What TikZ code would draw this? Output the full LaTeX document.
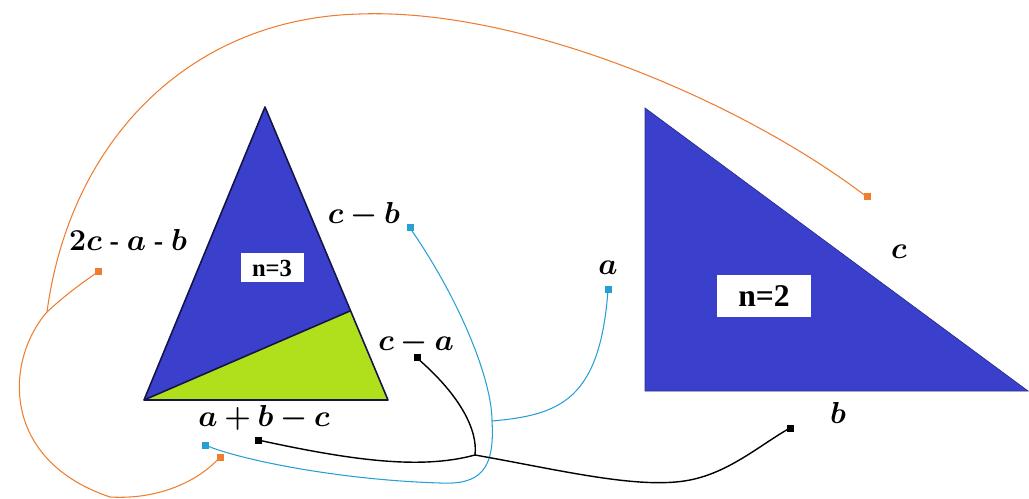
\documentclass[tikz,border=0pt]{standalone}
\usepackage{amsmath}
\usepackage{bm}
\usepackage{fontspec}
\setmainfont{Liberation Serif}
\usetikzlibrary{positioning}
\definecolor{TriBlue}{RGB}{58,64,204}
\definecolor{TriGreen}{RGB}{176,224,28}
\definecolor{TriEdge}{RGB}{20,20,70}
\definecolor{WireOrange}{RGB}{237,125,49}
\definecolor{WireCyan}{RGB}{38,160,212}
\tikzset{
  lado/.style={font=\fontsize{16}{18}\selectfont, inner sep=1pt},
  caixa/.style={fill=white, inner sep=0pt, align=center},
  fio/.style={line width=0.6pt, #1},
  ponta/.style={rectangle, fill=#1, minimum size=1.4mm, inner sep=0pt},
}

\begin{document}
\begin{tikzpicture}[x=0.2mm, y=-0.2mm]
  \useasboundingbox (0,0) rectangle (1029,499);

  % triangulo n=3 (dividido)
  \coordinate (ta) at (265,107);
  \coordinate (tl) at (144,400);
  \coordinate (tr) at (388,400);
  \coordinate (tm) at (350,311);
  \fill[TriBlue] (tl) -- (ta) -- (tm) -- cycle;
  \fill[TriGreen] (tl) -- (tm) -- (tr) -- cycle;
  \draw[TriEdge, line width=0.9pt, line join=round] (tl) -- (ta) -- (tr) -- cycle;
  \draw[TriEdge, line width=0.9pt] (tl) -- (tm);
  \node[caixa, minimum width=12.6mm, minimum height=5.8mm, font=\bfseries\fontsize{14}{16}\selectfont] (n3) at (272,268) {n=3};

  % triangulo retangulo n=2
  \fill[TriBlue, draw=TriBlue!70!black, line width=0.4pt] (645,108) -- (645,391) -- (1028,391) -- cycle;
  \node[caixa, minimum width=18.8mm, minimum height=8.4mm, font=\bfseries\fontsize{18}{20}\selectfont] (n2) at (764,296) {n=2};

  % rotulos dos lados
  \node[lado] (l2cab) at (128,240) {$\bm{2c}$\;\textbf{-}\;$\bm{a}$\;\textbf{-}\;$\bm{b}$};
  \node[lado] (lcb) at (364,215) {$\bm{c-b}$};
  \node[lado] (lca) at (416,343) {$\bm{c-a}$};
  \node[lado] (labc) at (264,418) {$\bm{a+b-c}$};
  \node[lado] (la) at (608,268) {$\bm{a}$};
  \node[lado] (lc) at (899,252) {$\bm{c}$};
  \node[lado] (lb) at (838,413) {$\bm{b}$};

  % pontas dos fios
  \node[ponta=WireOrange] (oc) at (867,197) {};
  \node[ponta=WireOrange] (oe) at (98,272) {};
  \node[ponta=WireOrange] (ob) at (220,457) {};
  \node[ponta=WireCyan] (bcb) at (410,228) {};
  \node[ponta=WireCyan] (ba) at (608,290) {};
  \node[ponta=WireCyan] (bab) at (205,445) {};
  \node[ponta=black] (kca) at (417,358) {};
  \node[ponta=black] (kab) at (258,440) {};
  \node[ponta=black] (kb) at (790,428) {};

  % juncoes
  \coordinate (jo) at (47,312);
  \coordinate (jb) at (492,421);
  \coordinate (jk) at (475,455);

  % fio laranja
  \draw[fio=WireOrange] (oc.center) .. controls (740,100) and (520,8) .. (360,14)
    .. controls (190,18) and (70,140) .. (jo);
  \draw[fio=WireOrange] (jo) .. controls (62,298) and (80,284) .. (oe.center);
  \draw[fio=WireOrange] (jo) .. controls (5,360) and (0,460) .. (110,497)
    .. controls (160,500) and (200,480) .. (ob.center);

  % fio azul
  \draw[fio=WireCyan] (bcb.center) .. controls (460,300) and (492,380) .. (jb);
  \draw[fio=WireCyan] (ba.center) .. controls (600,400) and (560,415) .. (jb);
  \draw[fio=WireCyan] (jb) .. controls (495,470) and (480,485) .. (440,483)
    .. controls (340,480) and (240,460) .. (bab.center);

  % fio preto
  \draw[fio=black, line width=0.8pt] (kca.center) .. controls (460,395) and (478,430) .. (jk);
  \draw[fio=black, line width=0.8pt] (kab.center) .. controls (350,460) and (420,470) .. (jk);
  \draw[fio=black, line width=0.8pt] (jk) .. controls (560,470) and (640,490) .. (690,480)
    .. controls (730,472) and (760,445) .. (kb.center);
\end{tikzpicture}
\end{document}
